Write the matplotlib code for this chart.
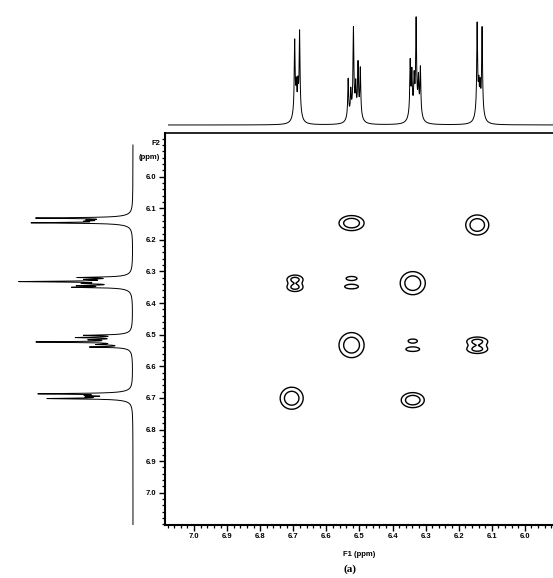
import numpy as np
import matplotlib
matplotlib.use("Agg")
import matplotlib.pyplot as plt
from matplotlib.ticker import MultipleLocator, FormatStrFormatter

# ---------------- data ----------------
# cross-peak components (F1 ppm, F2 ppm, amplitude, sigma F1, sigma F2)
cp_f1 = [6.524, 6.144,
         6.695, 6.695, 6.695,
         6.524, 6.524,
         6.339, 6.524,
         6.339, 6.339,
         6.144, 6.144, 6.144,
         6.705, 6.339]
cp_f2 = [6.147, 6.153,
         6.325, 6.350, 6.337,
         6.322, 6.348,
         6.337, 6.533,
         6.520, 6.546,
         6.521, 6.546, 6.533,
         6.701, 6.707]
cp_amp = [1.0, 1.0,
          0.60, 0.60, 0.22,
          0.42, 0.46,
          1.0, 1.0,
          0.42, 0.46,
          0.60, 0.60, 0.22,
          1.0, 1.0]
cp_sx = [0.0244, 0.0224,
         0.0165, 0.0165, 0.0200,
         0.0200, 0.0224,
         0.0244, 0.0244,
         0.0170, 0.0224,
         0.0215, 0.0215, 0.0260,
         0.0224, 0.0224]
cp_sy = [0.0153, 0.0204,
         0.0085, 0.0085, 0.0250,
         0.0075, 0.0075,
         0.0235, 0.0255,
         0.0075, 0.0075,
         0.0085, 0.0085, 0.0250,
         0.0224, 0.0153]
contour_levels = [0.3, 0.62]

# 1D projection lines (ppm) and heights (top F1 trace, left F2 trace)
line_ppm = [6.131, 6.137, 6.141, 6.146,
            6.319, 6.325, 6.332, 6.338, 6.345, 6.350,
            6.502, 6.509, 6.516, 6.523, 6.531, 6.539,
            6.687, 6.692, 6.697, 6.702]
top_height = [91, 25, 25, 95,
              50, 34, 96, 34, 41, 56,
              50, 53, 29, 90, 25, 41,
              87, 27, 27, 78]
left_height = [90, 25, 25, 94,
               47, 31, 103, 31, 41, 51,
               42, 47, 29, 89, 25, 38,
               87, 27, 27, 78]

x_ticks = [7.0, 6.9, 6.8, 6.7, 6.6, 6.5, 6.4, 6.3, 6.2, 6.1, 6.0]
y_ticks = [6.0, 6.1, 6.2, 6.3, 6.4, 6.5, 6.6, 6.7, 6.8, 6.9, 7.0]

# ---------------- figure ----------------
W, H = 553, 578
fig = plt.figure(figsize=(W / 100, H / 100), dpi=100)

def rect(x0, y0, x1, y1):
    return [x0 / W, 1 - y1 / H, (x1 - x0) / W, (y1 - y0) / H]

xlim = (7.088, 5.915)
ylim = (7.102, 5.862)

lab_font = dict(family=["Liberation Sans", "DejaVu Sans"], weight="bold", size=5.5)

# main contour axes
ax = fig.add_axes(rect(165, 133, 553, 525))
f1 = np.linspace(5.9, 7.1, 700)
f2 = np.linspace(5.85, 7.12, 700)
X, Y = np.meshgrid(f1, f2)
Z = np.zeros_like(X)
for a, b, A, sx, sy in zip(cp_f1, cp_f2, cp_amp, cp_sx, cp_sy):
    Z += A * np.exp(-((X - a) ** 2 / (2 * sx ** 2) + (Y - b) ** 2 / (2 * sy ** 2)))
ax.contour(X, Y, Z, levels=contour_levels, colors="k", linewidths=1.0)
ax.set_xlim(*xlim)
ax.set_ylim(*ylim)
ax.xaxis.set_minor_locator(MultipleLocator(0.02))
ax.yaxis.set_minor_locator(MultipleLocator(0.02))
ax.set_xticks(x_ticks)
ax.set_yticks(y_ticks)
ax.xaxis.set_major_formatter(FormatStrFormatter("%.1f"))
ax.yaxis.set_major_formatter(FormatStrFormatter("%.1f"))
ax.tick_params(which="major", direction="out", length=4, width=1.0, pad=2)
ax.tick_params(which="minor", direction="out", length=2.2, width=0.9)
for lab in ax.get_xticklabels() + ax.get_yticklabels():
    lab.set_fontfamily(["Liberation Sans", "DejaVu Sans"])
    lab.set_fontweight("bold")
    lab.set_fontsize(5.5)
for s in ax.spines.values():
    s.set_linewidth(1.5)
ax.spines["right"].set_visible(False)
ax.spines["top"].set_linewidth(1.2)
ax.set_xlabel("F1 (ppm)", fontdict=lab_font, labelpad=8)
ax.text(-0.012, 5.895, "F2", transform=ax.get_yaxis_transform(), ha="right",
        va="center", **lab_font)
ax.text(-0.012, 5.94, "(ppm)", transform=ax.get_yaxis_transform(), ha="right",
        va="center", **lab_font)
fig.text(350 / W, 1 - 569 / H, "(a)", ha="center", va="center",
         family=["Liberation Serif", "DejaVu Serif"], weight="bold", size=8)

# 1D traces
grid = np.linspace(5.9, 7.12, 6000)
g1, g2 = 0.0015, 0.007
def trace(heights):
    s = np.zeros_like(grid)
    for p, h in zip(line_ppm, heights):
        s += h * (0.88 * g1 ** 2 / ((grid - p) ** 2 + g1 ** 2)
                  + 0.12 * g2 ** 2 / ((grid - p) ** 2 + g2 ** 2))
    return s

# top trace
axt = fig.add_axes(rect(168, 0, 553, 127))
axt.plot(grid, trace(top_height), color="k", lw=0.7)
axt.set_xlim(*xlim)
axt.set_ylim(-2, 125)
axt.axis("off")

# left trace
axl = fig.add_axes(rect(0, 133, 135, 525))
axl.plot(trace(left_height), grid, color="k", lw=0.7)
axl.set_ylim(*ylim)
axl.set_xlim(133, -2)
axl.axis("off")

fig.savefig("out.png", dpi=100)
